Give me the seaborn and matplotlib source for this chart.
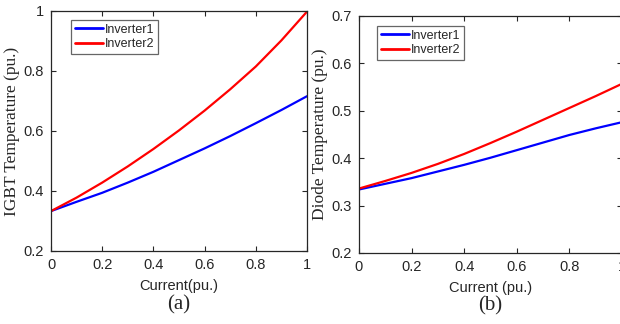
import matplotlib
matplotlib.use("Agg")
import matplotlib.pyplot as plt
import pandas as pd
import seaborn as sns

# values
current = [0.0, 0.1, 0.2, 0.3, 0.4, 0.5, 0.6, 0.7, 0.8, 0.9, 1.0]
igbt_inv1 = [0.333, 0.364, 0.394, 0.428, 0.464, 0.503, 0.542, 0.583, 0.626, 0.670, 0.716]
igbt_inv2 = [0.333, 0.378, 0.428, 0.482, 0.540, 0.602, 0.668, 0.739, 0.815, 0.902, 0.998]
diode_inv1 = [0.334, 0.346, 0.358, 0.372, 0.386, 0.401, 0.417, 0.433, 0.449, 0.463, 0.476]
diode_inv2 = [0.336, 0.352, 0.369, 0.388, 0.409, 0.432, 0.456, 0.481, 0.506, 0.531, 0.557]
series = ["Inverter1", "Inverter2"]
colors = {"Inverter1": "#0000ff", "Inverter2": "#ff0000"}

sns.set_style("white")
plt.rcParams["font.family"] = ["Liberation Sans", "DejaVu Sans"]


def long_df(a, b):
    return pd.DataFrame({
        "current": current * 2,
        "temp": a + b,
        "series": [series[0]] * len(a) + [series[1]] * len(b),
    })


def style_axes(ax, ylim, yticks, xlabel, ylabel, tag, legend_pos):
    ax.set_xlim(0, 1)
    ax.set_ylim(*ylim)
    ax.set_xticks([0, 0.2, 0.4, 0.6, 0.8, 1])
    ax.set_xticklabels(["0", "0.2", "0.4", "0.6", "0.8", "1"])
    ax.set_yticks(yticks)
    ax.set_yticklabels([("%g" % t) for t in yticks])
    ax.tick_params(direction="in", bottom=True, left=True, top=True, right=True,
                   length=3.5, width=0.8, colors="#262626", labelsize=10.5, pad=5)
    for s in ax.spines.values():
        s.set_color("#262626")
        s.set_linewidth(0.9)
    ax.set_xlabel(xlabel, fontsize=10.5, color="#262626", labelpad=5)
    ax.set_ylabel(ylabel, fontsize=12.5, family=["Liberation Serif"], color="#262626", labelpad=3)
    ax.text(0.5, -0.225, tag, transform=ax.transAxes, ha="center", va="center",
            fontsize=15, family=["Liberation Serif"])
    leg = ax.legend(loc="upper left", bbox_to_anchor=legend_pos, fontsize=9,
                    frameon=True, fancybox=False, handlelength=2.3,
                    handletextpad=0.1, borderpad=0.3, labelspacing=0.2,
                    borderaxespad=0)
    leg.get_frame().set_edgecolor("#404040")
    leg.get_frame().set_linewidth(0.9)
    for line in leg.get_lines():
        line.set_linewidth(2.0)


fig = plt.figure(figsize=(6.2, 3.24), dpi=100)
ax1 = fig.add_axes([51 / 620, 73 / 324, 256 / 620, 240 / 324])
ax2 = fig.add_axes([359 / 620, 71 / 324, 263 / 620, 237 / 324])

sns.lineplot(data=long_df(igbt_inv1, igbt_inv2), x="current", y="temp",
             hue="series", palette=colors, linewidth=1.6, ax=ax1)
sns.lineplot(data=long_df(diode_inv1, diode_inv2), x="current", y="temp",
             hue="series", palette=colors, linewidth=1.6, ax=ax2)

style_axes(ax1, (0.2, 1.0), [0.2, 0.4, 0.6, 0.8, 1.0], "Current(pu.)",
           "IGBT Temperature (pu.)", "(a)", (0.078, 0.962))
style_axes(ax2, (0.2, 0.7), [0.2, 0.3, 0.4, 0.5, 0.6, 0.7], "Current (pu.)",
           "Diode Temperature (pu.)", "(b)", (0.068, 0.958))

fig.savefig("out.png", dpi=100)
